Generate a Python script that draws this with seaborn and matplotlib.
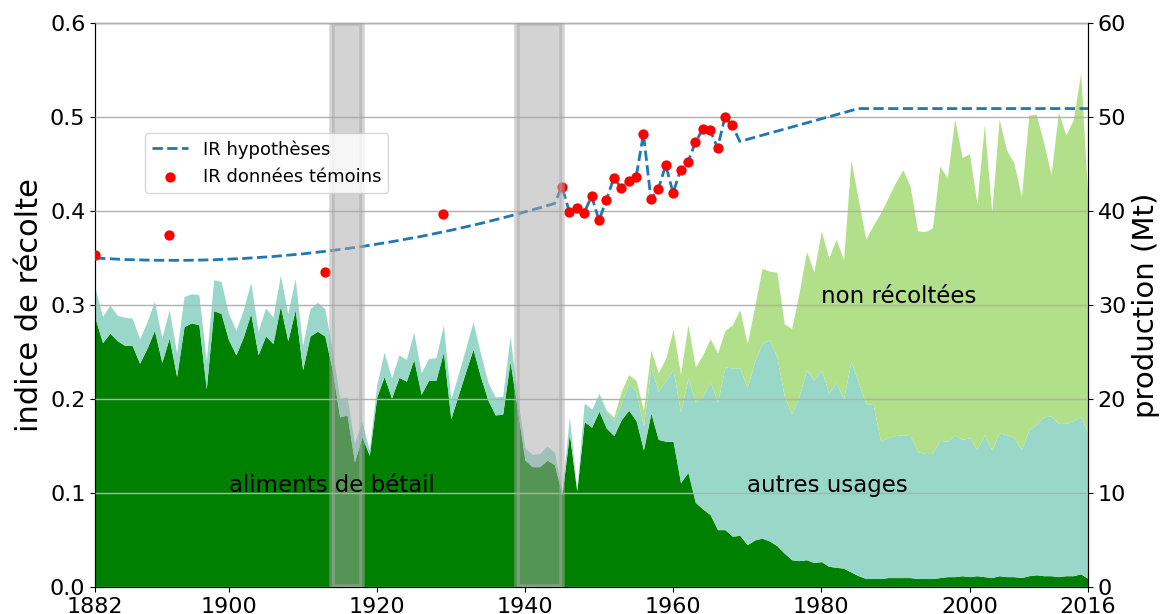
import matplotlib
matplotlib.use("Agg")
import matplotlib.pyplot as plt
import numpy as np
import pandas as pd
import seaborn as sns

# ---------------- data ----------------
years = list(range(1882, 2017))

# aliments de bétail (Mt)
aliments_betail = [
    28.6, 26.0, 27.0, 26.2, 25.7, 25.7, 23.8, 25.4, 27.3, 23.9,   # 1882-1891
    26.5, 22.4, 27.7, 28.1, 27.9, 21.1, 29.4, 29.1, 26.3, 24.7,   # 1892-1901
    26.6, 29.1, 24.7, 26.7, 25.9, 29.9, 26.2, 29.5, 23.1, 26.7,   # 1902-1911
    27.2, 26.7, 23.1, 18.1, 18.3, 13.3, 16.0, 14.0, 20.2, 22.4,   # 1912-1921
    20.1, 22.3, 21.9, 24.2, 20.5, 22.0, 22.0, 25.0, 17.9, 20.4,   # 1922-1931
    22.9, 25.3, 22.4, 19.9, 18.3, 18.4, 24.0, 18.8, 13.5, 12.8,   # 1932-1941
    12.8, 13.5, 13.0, 9.8, 16.3, 10.2, 17.6, 17.0, 18.7, 16.9,    # 1942-1951
    16.1, 17.8, 18.8, 17.7, 14.6, 18.5, 15.7, 15.5, 15.5, 11.1,   # 1952-1961
    12.2, 9.0, 8.3, 7.7, 6.1, 6.1, 5.4, 5.5, 4.5, 5.0,            # 1962-1971
    5.2, 4.9, 4.4, 3.6, 2.9, 2.8, 2.9, 2.6, 2.7, 2.2,             # 1972-1981
    2.1, 2.0, 1.6, 1.2, 0.9, 0.9, 0.9, 1.0, 1.0, 1.0,             # 1982-1991
    1.0, 0.9, 0.9, 0.9, 1.0, 1.1, 1.1, 1.2, 1.1, 1.2,             # 1992-2001
    1.1, 1.0, 1.2, 1.1, 1.1, 1.0, 1.2, 1.3, 1.2, 1.2,             # 2002-2011
    1.1, 1.2, 1.2, 1.4, 0.9,                                      # 2012-2016
]

# aliments + autres usages (cumulated, Mt)
usages_total = [
    31.8, 28.8, 30.0, 28.9, 28.7, 28.6, 26.4, 28.2, 30.4, 26.5,
    29.5, 24.9, 30.9, 31.2, 31.1, 24.1, 32.7, 32.5, 29.1, 27.3,
    29.5, 32.4, 27.2, 29.7, 28.7, 33.2, 29.1, 32.8, 25.7, 29.6,
    30.3, 29.6, 25.2, 20.1, 20.2, 15.3, 17.6, 14.6, 21.5, 25.0,
    22.2, 24.7, 24.2, 27.1, 22.8, 24.3, 24.4, 27.9, 20.0, 22.6,
    25.4, 28.2, 24.9, 21.8, 20.2, 20.3, 26.7, 20.2, 14.8, 14.1,
    14.2, 15.0, 14.3, 10.2, 18.1, 10.3, 19.6, 18.9, 20.6, 18.7,
    17.7, 19.5, 21.7, 20.8, 17.1, 23.4, 20.8, 22.0, 23.1, 18.6,
    22.2, 19.7, 20.3, 21.8, 19.7, 23.4, 23.3, 23.3, 21.2, 24.0,
    25.9, 26.3, 24.5, 20.3, 18.4, 20.3, 23.1, 22.0, 23.1, 20.6,
    21.8, 20.0, 24.0, 21.8, 19.5, 19.4, 15.5, 15.9, 16.1, 16.2,
    16.1, 14.4, 14.2, 14.2, 15.6, 15.5, 16.2, 15.7, 15.9, 14.6,
    16.2, 14.6, 16.4, 16.2, 15.9, 14.6, 16.7, 17.3, 18.1, 18.2,
    17.4, 17.4, 17.7, 18.1, 16.4,
]

# production totale incl. non récoltées (cumulated, Mt)
production_totale = [
    31.8, 28.8, 30.0, 28.9, 28.7, 28.6, 26.4, 28.2, 30.4, 26.5,
    29.5, 24.9, 30.9, 31.2, 31.1, 24.1, 32.7, 32.5, 29.1, 27.3,
    29.5, 32.4, 27.2, 29.7, 28.7, 33.2, 29.1, 32.8, 25.7, 29.6,
    30.3, 29.6, 25.2, 20.1, 20.2, 15.3, 17.6, 14.6, 21.5, 25.0,
    22.2, 24.7, 24.2, 27.1, 22.8, 24.3, 24.4, 27.9, 20.0, 22.6,
    25.4, 28.2, 24.9, 21.8, 20.2, 20.3, 26.7, 20.2, 14.8, 14.1,
    14.2, 15.0, 14.3, 10.2, 18.1, 10.3, 19.6, 18.9, 20.6, 18.8,
    18.1, 20.8, 22.6, 22.0, 18.8, 25.2, 22.8, 24.3, 27.4, 22.6,
    27.9, 23.4, 24.7, 26.4, 24.9, 27.3, 27.9, 29.5, 25.9, 29.8,
    33.9, 33.6, 33.5, 28.0, 27.5, 31.3, 35.7, 33.5, 37.9, 35.0,
    37.0, 34.8, 45.4, 41.2, 37.0, 38.5, 39.8, 41.4, 43.0, 44.4,
    42.6, 37.9, 37.8, 38.2, 44.8, 43.5, 49.8, 45.7, 46.1, 40.8,
    49.2, 39.9, 49.8, 46.5, 45.1, 41.5, 50.2, 50.3, 47.3, 43.9,
    50.5, 48.1, 49.7, 54.7, 41.0,
]

# IR données témoins
ir_obs_years = [1882, 1892, 1913, 1929,
                1945, 1946, 1947, 1948, 1949, 1950, 1951, 1952, 1953, 1954,
                1955, 1956, 1957, 1958, 1959, 1960, 1961, 1962, 1963, 1964,
                1965, 1966, 1967, 1968]
ir_obs = [0.353, 0.374, 0.335, 0.397,
          0.426, 0.399, 0.403, 0.398, 0.416, 0.390, 0.412, 0.435, 0.425, 0.432,
          0.436, 0.482, 0.413, 0.423, 0.449, 0.419, 0.444, 0.452, 0.473, 0.487,
          0.486, 0.467, 0.500, 0.491]

# IR hypothèses
ir_hyp_years = [1882, 1886, 1890, 1894, 1898, 1902, 1906, 1910, 1914, 1918,
                1922, 1926, 1930, 1934, 1938, 1942, 1944,
                1945, 1946, 1947, 1948, 1949, 1950, 1951, 1952, 1953, 1954,
                1955, 1956, 1957, 1958, 1959, 1960, 1961, 1962, 1963, 1964,
                1965, 1966, 1967, 1968, 1969, 1985, 2016]
ir_hyp = [0.350, 0.3484, 0.3476, 0.3475, 0.3481, 0.3495, 0.3516, 0.3544, 0.3580, 0.3622,
          0.3673, 0.3730, 0.3795, 0.3867, 0.3947, 0.4034, 0.408,
          0.426, 0.399, 0.403, 0.398, 0.416, 0.390, 0.412, 0.435, 0.425, 0.432,
          0.436, 0.482, 0.413, 0.423, 0.449, 0.419, 0.444, 0.452, 0.473, 0.487,
          0.486, 0.467, 0.500, 0.491, 0.474, 0.509, 0.509]

war_periods = [(1914, 1918), (1939, 1945)]
x_ticks = [1882, 1900, 1920, 1940, 1960, 1980, 2000, 2016]

# ---------------- plot ----------------
sns.set_style("ticks", rc={"axes.edgecolor": "black", "text.color": "black",
                           "axes.labelcolor": "black", "xtick.color": "black",
                           "ytick.color": "black"})
plt.rcParams["font.family"] = ["DejaVu Sans"]

fig, ax = plt.subplots(figsize=(11.6, 6.14), dpi=100)
fig.subplots_adjust(left=0.082, right=0.938, bottom=0.044, top=0.9625)
ax2 = ax.twinx()
ax.set_zorder(ax2.get_zorder() + 1)
ax.patch.set_visible(False)

# stacked areas on production axis
ax2.fill_between(years, 0, aliments_betail, color="#008000", lw=0)
ax2.fill_between(years, aliments_betail, usages_total, color="#99d8c9", lw=0)
ax2.fill_between(years, usages_total, production_totale, color="#b2df8a", lw=0)
ax2.set_ylim(0, 60)
ax2.set_yticks(range(0, 61, 10))
ax2.set_ylabel("production (Mt)", fontsize=21)
ax2.tick_params(labelsize=16)

# IR lines
hyp_df = pd.DataFrame({"annee": ir_hyp_years, "IR": ir_hyp})
obs_df = pd.DataFrame({"annee": ir_obs_years, "IR": ir_obs})
sns.lineplot(data=hyp_df, x="annee", y="IR", ax=ax, color="#1f77b4",
             linestyle="--", lw=2, label="IR hypothèses", zorder=3)
sns.scatterplot(data=obs_df, x="annee", y="IR", ax=ax, color="red", s=55,
                linewidth=0, label="IR données témoins", zorder=4)

for a, b in war_periods:
    ax.axvspan(a, b, facecolor="darkgray", edgecolor="darkgray",
               alpha=0.5, lw=4, zorder=5)

ax.set_xlim(1882, 2016)
ax.set_ylim(0, 0.6)
ax.set_xticks(x_ticks)
ax.set_yticks(np.arange(0, 0.61, 0.1))
ax.set_yticklabels([f"{v:.1f}" for v in np.arange(0, 0.61, 0.1)])
ax.tick_params(labelsize=16)
ax.set_xlabel("")
ax.set_ylabel("indice de récolte", fontsize=22)
ax.grid(axis="y", color="#b0b0b0", lw=1)
ax.set_axisbelow(False)

ax.text(1900, 0.108, "aliments de bétail", fontsize=16.5, va="center", zorder=6)
ax.text(1970, 0.108, "autres usages", fontsize=16.5, va="center", zorder=6)
ax.text(1980, 0.309, "non récoltées", fontsize=16.5, va="center", zorder=6)

leg = ax.legend(loc="upper left", bbox_to_anchor=(0.05, 0.805), fontsize=13,
                borderaxespad=0, frameon=True)
leg.set_zorder(10)

for s in ["top", "right"]:
    ax.spines[s].set_visible(True)
    ax2.spines[s].set_visible(True)

fig.savefig("out.png", dpi=100)
